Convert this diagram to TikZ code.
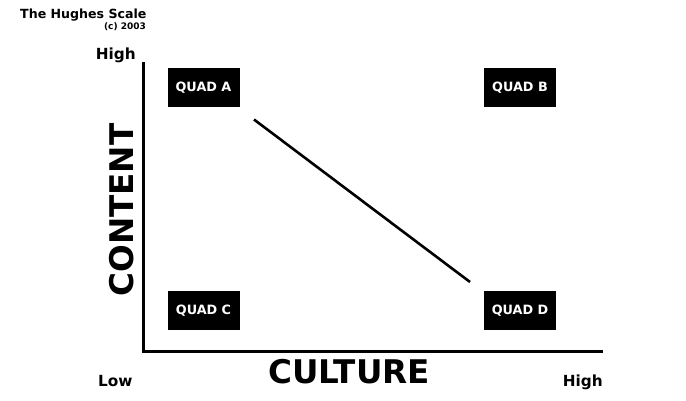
\documentclass[tikz,border=0pt]{standalone}
\usepackage{fontspec}
\setmainfont{DejaVu Sans}
\tikzset{
  quad/.style={fill=black,text=white,font=\bfseries\fontsize{12.8}{14}\selectfont,minimum width=72pt,minimum height=39pt,inner sep=0pt},
  axislabel/.style={font=\bfseries\fontsize{32.6}{36}\selectfont,inner sep=0pt},
  endlabel/.style={font=\bfseries\fontsize{15.3}{17}\selectfont,inner sep=0pt}
}
\begin{document}
\begin{tikzpicture}[x=1pt,y=-1pt]
		\useasboundingbox (0,0) rectangle (686,401);
		% title
		\node[anchor=base west,inner sep=0pt,font=\bfseries\fontsize{12.6}{14}\selectfont] (title) at (20,19) {The Hughes Scale};
		\node[anchor=base east,inner sep=0pt,font=\bfseries\fontsize{9}{10}\selectfont] (copy) at (146,30) {(c) 2003};
		% axes
		\coordinate (origin) at (143,351);
		\coordinate (ytop) at (143,62);
		\coordinate (xend) at (603,351);
		\draw[line width=3pt] (ytop)--(origin)--(xend);
		\node[endlabel,anchor=base east] (yhigh) at (136,60) {High};
		\node[endlabel,anchor=base west] (low) at (98,386) {Low};
		\node[endlabel,anchor=base east] (xhigh) at (603,386) {High};
		\node[axislabel,anchor=base] (culture) at (349,383) {CULTURE};
		\node[axislabel,anchor=base,rotate=90] (content) at (133,210) {CONTENT};
		% quadrants
		\node[quad] (qa) at (203.5,87.7) {QUAD A};
		\node[quad] (qb) at (520,87.5) {QUAD B};
		\node[quad] (qc) at (203.5,310.3) {QUAD C};
		\node[quad] (qd) at (520,310.3) {QUAD D};
		% scale line
		\coordinate (lstart) at (254,119.5);
		\coordinate (lend) at (470,282);
		\draw[line width=2.6pt] (lstart)--(lend);
	    \end{tikzpicture}
\end{document}
